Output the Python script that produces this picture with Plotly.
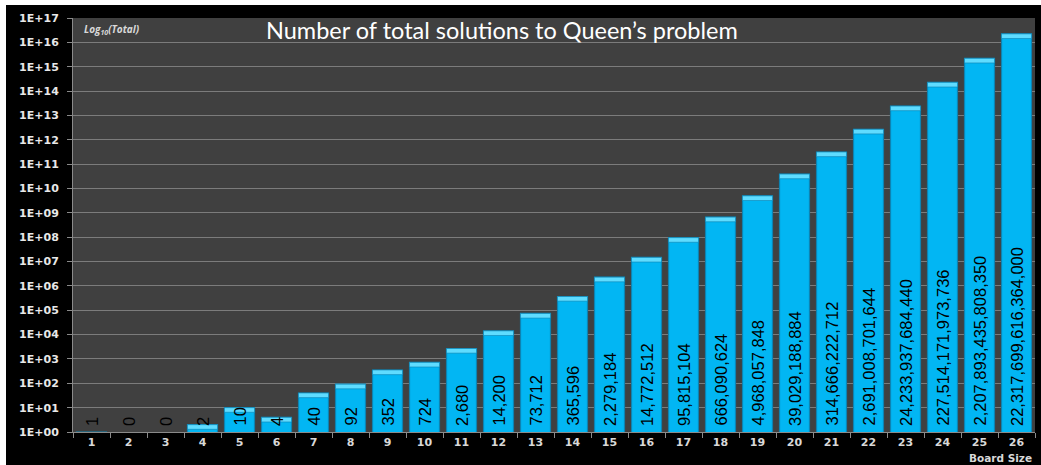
import plotly.graph_objects as go

board_sizes = [str(i) for i in range(1, 27)]
totals = [1, 0, 0, 2, 10, 4, 40, 92, 352, 724, 2680, 14200, 73712, 365596,
          2279184, 14772512, 95815104, 666090624, 4968057848, 39029188884,
          314666222712, 2691008701644, 24233937684440, 227514171973736,
          2207893435808350, 22317699616364000]
y_tick_vals = [10 ** k for k in range(0, 18)]
y_tick_text = ["1E+%02d" % k for k in range(0, 18)]

title_text = "Number of total solutions to Queen’s problem"

W, H = 1041, 465
ML, MR, MT, MB = 73, 6, 18, 33
PW, PH = W - ML - MR, H - MT - MB

def px_x(p):
    return (p - ML) / PW

def px_y(p):
    return (H - MB - p) / PH

bar_vals = [v if v > 0 else None for v in totals]
cap_frac = 10 ** 0.19
cap_base = [v / cap_frac if v > 1 else None for v in totals]
cap_h = [v - v / cap_frac if v > 1 else None for v in totals]

fig = go.Figure()
fig.add_trace(go.Bar(
    x=board_sizes, y=bar_vals,
    marker=dict(color="#02b6f3", line=dict(color="#0d83b2", width=1.2)),
    hoverinfo="x+y", showlegend=False,
))
fig.add_trace(go.Bar(
    x=board_sizes, y=cap_h, base=cap_base,
    marker=dict(color="#5fdcff", line=dict(color="#0d83b2", width=0.6)),
    hoverinfo="skip", showlegend=False,
))

annotations = []
for i, v in enumerate(totals):
    annotations.append(dict(
        x=i, y=0, xref="x", yref="y", text=f"{v:,}", showarrow=False,
        textangle=-90, yanchor="bottom", xanchor="center", yshift=4,
        font=dict(family="Liberation Sans, Arial, sans-serif",
                  size=16.5, color="#000000"),
    ))

annotations.append(dict(
    x=px_x(502), y=px_y(30), xref="paper", yref="paper", text=title_text,
    showarrow=False, xanchor="center", yanchor="middle",
    font=dict(family="Lato, Open Sans, sans-serif", size=23.5, color="#ffffff"),
))
annotations.append(dict(
    x=px_x(82), y=px_y(29), xref="paper", yref="paper",
    text="<b><i>Log<sub>10</sub>(Total)</i></b>",
    showarrow=False, xanchor="left", yanchor="middle",
    font=dict(family="Open Sans, DejaVu Sans, sans-serif", size=10, color="#d8d8d8"),
))
annotations.append(dict(
    x=px_x(1034), y=px_y(458), xref="paper", yref="paper",
    text="<b>Board Size</b>",
    showarrow=False, xanchor="right", yanchor="middle",
    font=dict(family="DejaVu Sans, sans-serif", size=10.5, color="#d8d8d8"),
))

shapes = [
    dict(type="rect", xref="paper", yref="paper",
         x0=px_x(-5), x1=px_x(W + 5), y0=px_y(5), y1=px_y(-5),
         fillcolor="#ffffff", line=dict(width=0), layer="below"),
    dict(type="rect", xref="paper", yref="paper",
         x0=px_x(-5), x1=px_x(6), y0=px_y(H + 5), y1=px_y(-5),
         fillcolor="#ffffff", line=dict(width=0), layer="below"),
]

fig.update_layout(
    width=W, height=H,
    margin=dict(l=ML, r=MR, t=MT, b=MB, pad=0),
    paper_bgcolor="#000000", plot_bgcolor="#404040",
    barmode="overlay", bargap=0.19,
    annotations=annotations, shapes=shapes,
    xaxis=dict(
        type="category", tickson="boundaries", ticks="outside", ticklen=5,
        tickcolor="#8a8a8a", showgrid=False, showline=True, linecolor="#8a8a8a",
        linewidth=1,
        tickfont=dict(family="DejaVu Sans, sans-serif", size=11, color="#d8d8d8", weight="bold"),
        fixedrange=True,
    ),
    yaxis=dict(
        type="log", range=[0, 17], tickvals=y_tick_vals, ticktext=y_tick_text,
        ticks="outside", ticklen=5, tickcolor="#8a8a8a",
        showgrid=True, gridcolor="#7c7c7c", gridwidth=1,
        showline=True, linecolor="#8a8a8a", linewidth=1, zeroline=False,
        ticklabelstandoff=6,
        tickfont=dict(family="DejaVu Sans, sans-serif", size=11, color="#e8e8e8", weight="bold"),
        fixedrange=True,
    ),
)

fig.write_html("out.html", config={"displayModeBar": False},
               post_script="document.body.style.margin='0';")
